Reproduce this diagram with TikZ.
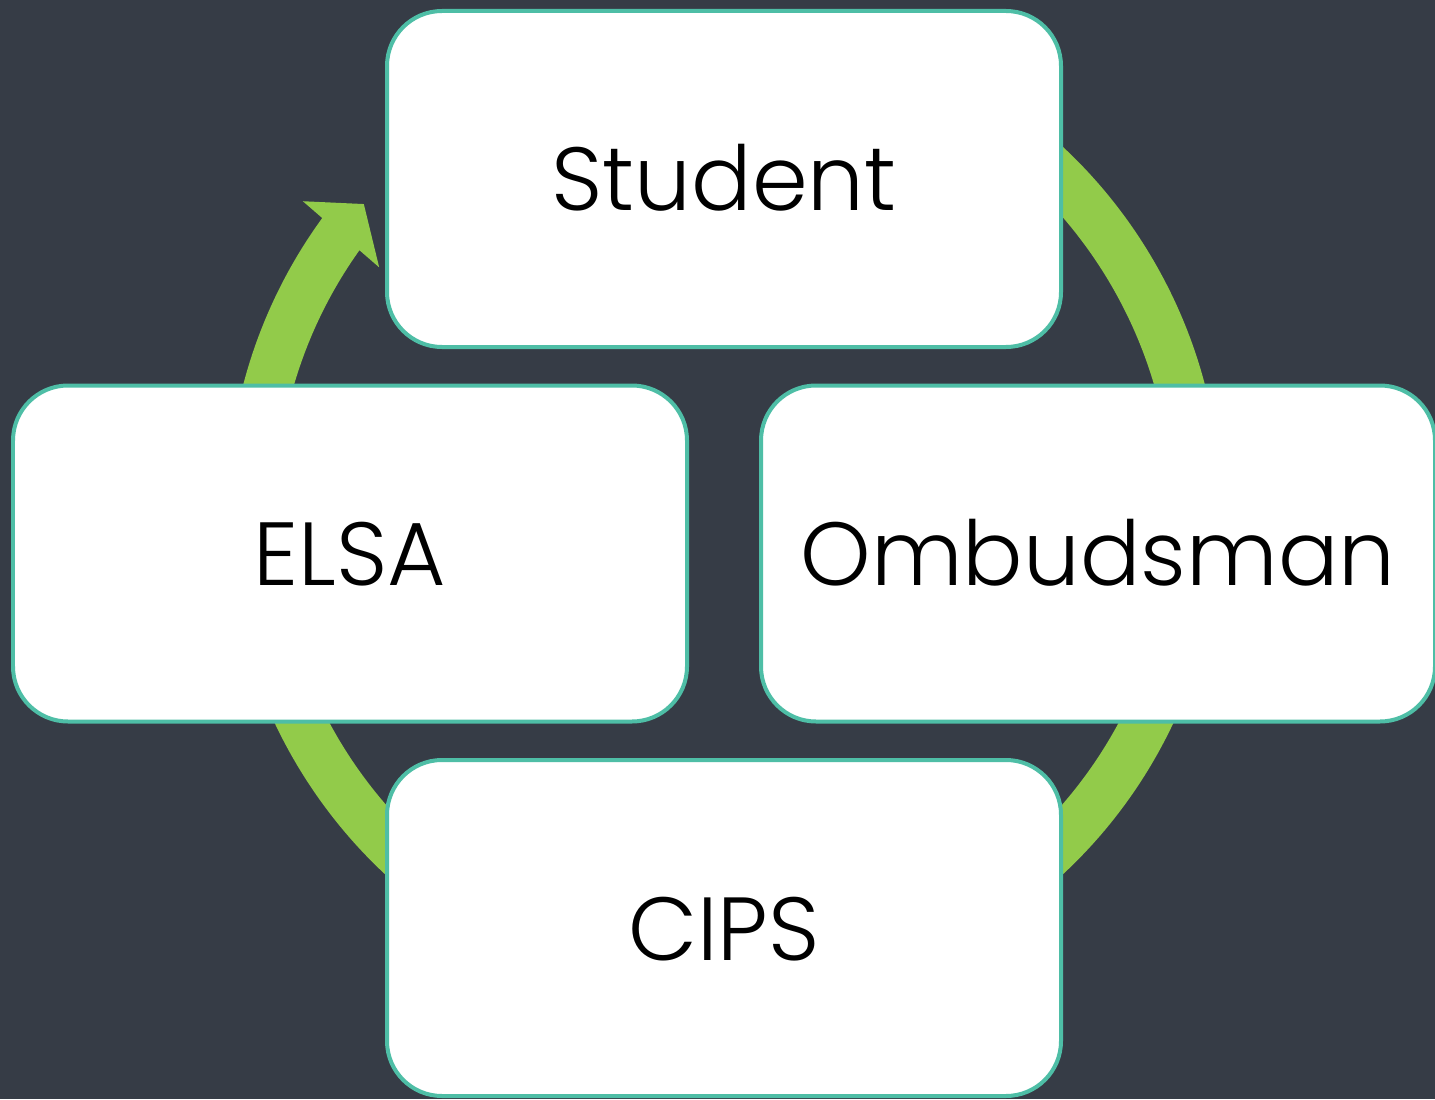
\documentclass[tikz,border=0pt]{standalone}
\usepackage{fontspec}
\setmainfont{Poppins}[UprightFont=*-Light]
\usetikzlibrary{calc}
\definecolor{bgc}{RGB}{54,60,70}
\definecolor{arrowgreen}{RGB}{146,203,74}
\definecolor{boxedge}{RGB}{78,190,166}
\tikzset{
  cyclebox/.style={draw=boxedge, fill=white, line width=0.04cm, rounded corners=0.55cm,
    minimum width=6.74cm, minimum height=3.36cm, inner sep=0pt,
    text height=0.64cm, text depth=0pt, font=\fontsize{25.5}{30}\selectfont, text=black},
  cyclearrow/.style={draw=arrowgreen, line width=0.49cm},
  arrowtip/.style={fill=arrowgreen}
}
\begin{document}
\begin{tikzpicture}
\useasboundingbox (0,0) rectangle (14.35,10.99);
\fill[bgc] (0,0) rectangle (14.35,10.99);
\coordinate (C) at (7.24,5.884);
\draw[cyclearrow] ($(C)+(120:4.725)$) arc[start angle=120, end angle=-216.1, radius=4.725];
\coordinate (tip) at ($(C)+(139.6:4.73)$);
\coordinate (barbout) at ($(C)+(143.7:5.226)$);
\coordinate (barbin) at ($(C)+(144.8:4.22)$);
\fill[arrowtip] (tip) -- (barbout) -- (barbin) -- cycle;
\node[cyclebox] (student) at (7.24,9.20) {Student};
\node[cyclebox] (elsa) at (3.50,5.455) {ELSA};
\node[cyclebox] (ombud) at (10.98,5.455) {Ombudsman};
\node[cyclebox] (cips) at (7.24,1.71) {CIPS};
\end{tikzpicture}
\end{document}
